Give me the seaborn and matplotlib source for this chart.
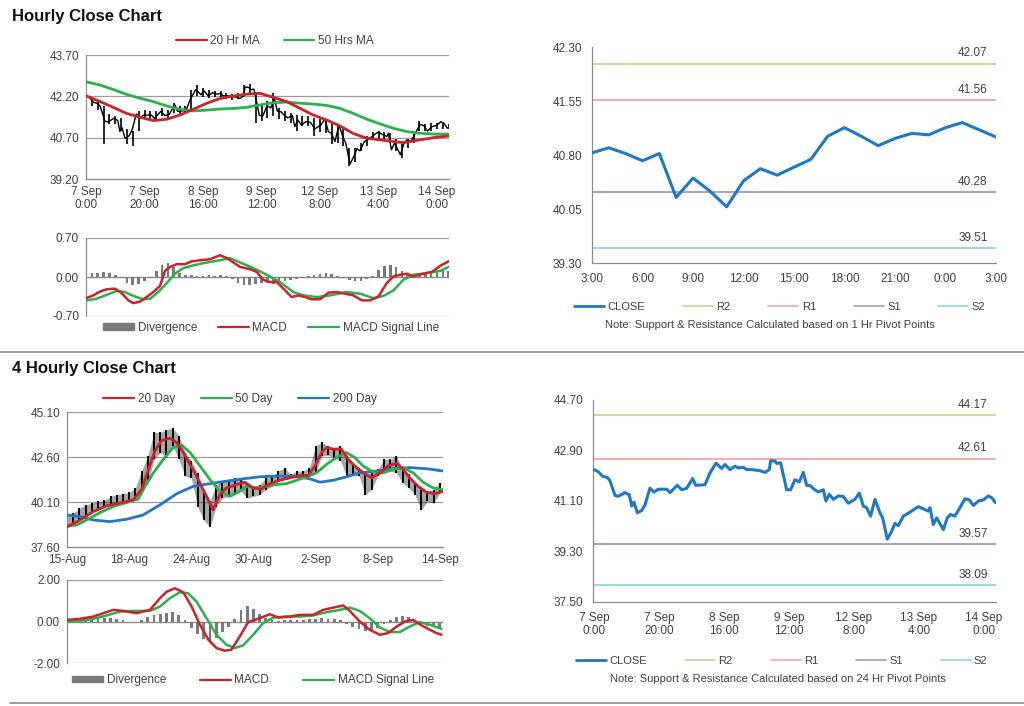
import matplotlib
matplotlib.use("Agg")
import matplotlib.pyplot as plt
import seaborn as sns
from matplotlib.lines import Line2D
from matplotlib.patches import Patch

sns.set_style("white")
plt.rcParams['font.family'] = ['Liberation Sans', 'DejaVu Sans']

# ---------------- DATA ----------------
# Hourly chart (7 Sep 0:00 -> 14 Sep ~4:00), x = trading-hour index
hourly_tick_labels = ["7 Sep\n0:00", "7 Sep\n20:00", "8 Sep\n16:00", "9 Sep\n12:00",
                      "12 Sep\n8:00", "13 Sep\n4:00", "14 Sep\n0:00"]
hourly_ticks = [0, 20, 40, 60, 80, 100, 120]

bar_hours = list(range(0, 125, 2))
bar_high_1h = [42.22, 42.14, 42.02, 41.84, 41.55, 41.48, 41.42, 41.00, 40.94, 41.66,
               41.72, 41.66, 41.66, 41.78, 41.72, 41.96, 41.84, 41.84, 42.44, 42.62,
               42.50, 42.44, 42.40, 42.38, 42.32, 42.30, 42.32, 42.60, 42.64, 42.30,
               41.90, 42.02, 42.32, 41.78, 41.66, 41.60, 41.54, 41.48, 41.48, 41.42,
               41.36, 41.36, 41.24, 41.12, 41.00, 40.34, 40.34, 40.52, 40.76, 40.90,
               40.96, 40.90, 40.88, 40.64, 40.46, 40.64, 40.82, 41.30, 41.20, 41.22,
               41.24, 41.24, 41.20]
bar_low_1h = [41.95, 41.84, 41.72, 40.46, 41.20, 41.18, 40.94, 40.46, 40.40, 40.94,
              41.36, 41.36, 41.38, 41.48, 41.42, 41.60, 41.54, 41.56, 41.72, 42.20,
              42.18, 42.14, 42.16, 42.14, 42.10, 42.08, 42.10, 42.20, 42.30, 41.24,
              41.30, 41.42, 41.48, 41.36, 41.30, 41.24, 40.94, 41.12, 41.12, 40.76,
              40.90, 40.88, 40.46, 40.50, 40.40, 39.68, 39.80, 40.22, 40.40, 40.64,
              40.66, 40.60, 40.52, 40.22, 39.98, 40.34, 40.52, 40.94, 40.94, 40.96,
              41.00, 41.00, 41.00]

ma20_hours = [0, 4.8, 9.3, 13.9, 18.5, 23.0, 27.6, 32.1, 36.7, 41.3, 45.8, 50.4, 54.9, 59.5,
              64.1, 68.6, 73.2, 77.7, 82.3, 86.9, 91.4, 96.0, 100.5, 105.1, 108.5, 111.9,
              116.5, 120.0, 123.9]
ma20_1h = [42.22, 42.01, 41.80, 41.58, 41.44, 41.32, 41.37, 41.52, 41.73, 41.95, 42.12, 42.21,
           42.28, 42.31, 42.16, 42.01, 41.76, 41.52, 41.34, 41.12, 40.85, 40.68, 40.62, 40.56,
           40.52, 40.58, 40.66, 40.72, 40.76]
ma50_hours = [0, 4.8, 9.3, 13.9, 18.5, 23.0, 27.6, 32.1, 36.7, 41.3, 45.8, 50.4, 54.9, 59.5,
              64.1, 68.6, 73.2, 77.7, 82.3, 86.9, 91.4, 96.0, 100.5, 105.1, 109.7, 114.2,
              118.8, 123.9]
ma50_1h = [42.73, 42.61, 42.45, 42.27, 42.13, 42.01, 41.85, 41.73, 41.67, 41.70, 41.74, 41.76,
           41.80, 41.89, 41.97, 41.99, 41.95, 41.92, 41.87, 41.76, 41.58, 41.37, 41.20, 41.04,
           40.92, 40.86, 40.83, 40.83]

macd_hours = [0, 2.5, 4.8, 7.1, 9.9, 12.2, 14.5, 16.2, 18.5, 20.7, 23.0, 25.3, 27.0, 28.7, 31.0,
              33.8, 36.1, 39.0, 42.4, 45.8, 48.1, 50.4, 52.7, 56.1, 58.4, 60.6, 62.9, 65.2, 67.5,
              70.3, 72.6, 74.9, 77.1, 80.0, 82.9, 85.7, 88.6, 91.4, 94.3, 97.1, 100.0, 102.8,
              105.1, 107.4, 109.7, 111.9, 115.4, 118.2, 121.1, 123.9]
macd_1h = [-0.38, -0.33, -0.26, -0.22, -0.21, -0.29, -0.42, -0.47, -0.44, -0.36,
           -0.27, -0.16, 0.11, 0.18, 0.23, 0.23, 0.28, 0.30, 0.32, 0.39,
           0.34, 0.26, 0.18, 0.14, 0.09, -0.05, -0.09, -0.09, -0.21, -0.36,
           -0.33, -0.36, -0.40, -0.40, -0.28, -0.27, -0.30, -0.33, -0.42, -0.42,
           -0.35, -0.11, 0.01, 0.04, 0.06, 0.01, 0.06, 0.09, 0.20, 0.28]
signal_hours = [0, 3.6, 7.1, 10.5, 13.3, 16.2, 19.6, 21.9, 24.7, 27.6, 30.4, 33.3, 36.7, 41.3,
                45.8, 49.2, 52.7, 57.2, 61.8, 66.3, 70.9, 74.3, 78.9, 83.4, 89.1, 93.7, 98.3,
                101.7, 105.1, 108.5, 111.9, 116.5, 121.1, 123.9]
signal_1h = [-0.42, -0.39, -0.32, -0.25, -0.27, -0.34, -0.40, -0.39, -0.27, -0.11, 0.06, 0.16,
             0.21, 0.26, 0.30, 0.34, 0.26, 0.16, 0.04, -0.09, -0.27, -0.33, -0.36, -0.33,
             -0.27, -0.30, -0.38, -0.34, -0.24, -0.05, 0.04, 0.07, 0.11, 0.18]
div_hours = list(range(0, 125, 2))
div_1h = [0.05, 0.07, 0.08, 0.09, 0.07, 0.04, -0.02, -0.10, -0.15, -0.13,
          -0.08, -0.02, 0.10, 0.22, 0.26, 0.18, 0.08, 0.04, 0.03, 0.02,
          0.02, 0.03, 0.02, 0.03, 0.02, -0.04, -0.10, -0.14, -0.15, -0.12,
          -0.10, -0.11, -0.12, -0.10, -0.08, -0.05, -0.03, -0.02, 0.01, 0.03,
          0.05, 0.08, 0.06, 0.02, -0.02, -0.05, -0.08, -0.07, -0.04, 0.02,
          0.12, 0.20, 0.22, 0.18, 0.10, 0.04, 0.03, 0.04, 0.05, 0.07,
          0.10, 0.12, 0.10]

# Hourly close with 1 Hr pivots (last 24 hours)
pivot1h_labels = ["3:00", "6:00", "9:00", "12:00", "15:00", "18:00", "21:00", "0:00", "3:00"]
pivot1h_close = [40.83, 40.90, 40.82, 40.72, 40.82, 40.21, 40.48, 40.30, 40.08, 40.44,
                 40.61, 40.52, 40.63, 40.74, 41.06, 41.18, 41.06, 40.93, 41.03, 41.10,
                 41.08, 41.18, 41.25, 41.15, 41.05]
pivot1h_levels = {"R2": 42.07, "R1": 41.56, "S1": 40.28, "S2": 39.51}

# 4-hourly chart
h4_tick_labels = ["15-Aug", "18-Aug", "24-Aug", "30-Aug", "2-Sep", "8-Sep", "14-Sep"]
h4_ticks = [0, 20, 40, 60, 80, 100, 120]
h4_bar_idx = list(range(0, 121, 2))
h4_high = [39.29, 39.47, 39.76, 39.94, 40.04, 40.13, 40.19, 40.41, 40.51, 40.56,
           40.64, 40.88, 41.82, 42.66, 43.97, 43.97, 44.12, 44.20, 43.79, 42.85,
           42.38, 41.72, 40.60, 40.13, 41.07, 41.26, 41.26, 41.44, 41.35, 41.16,
           40.97, 41.07, 41.44, 41.54, 41.82, 42.01, 41.63, 41.82, 41.82, 42.01,
           43.22, 43.41, 43.19, 43.04, 43.22, 42.66, 42.19, 42.01, 41.72, 41.72,
           41.91, 42.47, 42.47, 42.66, 41.91, 41.63, 41.16, 40.79, 40.69, 40.79,
           41.16]
h4_low = [38.69, 38.87, 39.10, 39.38, 39.51, 39.76, 39.85, 39.92, 40.00, 40.07,
          40.19, 40.32, 40.69, 41.16, 42.47, 42.85, 42.57, 43.22, 42.47, 41.54,
          41.44, 39.85, 39.10, 38.72, 39.85, 40.32, 40.41, 40.60, 40.69, 40.32,
          40.41, 40.51, 40.79, 40.97, 41.26, 41.35, 41.44, 41.44, 41.50, 41.54,
          41.72, 42.66, 42.70, 42.57, 42.38, 41.54, 41.63, 41.54, 40.51, 40.79,
          41.54, 41.82, 41.82, 41.72, 41.16, 40.88, 40.51, 39.66, 40.13, 40.04,
          40.60]
ma20d_idx = [0, 4.2, 8.5, 12.8, 17.0, 21.3, 24.0, 26.2, 28.3, 30.4, 33.1, 35.3, 37.4, 39.6,
             41.7, 43.8, 46.0, 47.0, 49.2, 51.3, 54.6, 57.2, 59.9, 62.6, 65.3, 68.5, 71.7,
             74.9, 77.6, 79.8, 81.9, 83.5, 85.7, 88.3, 90.5, 92.6, 95.3, 98.0, 100.7, 103.3,
             106.1, 108.2, 110.3, 113.0, 115.7, 118.4, 121.0]
ma20d = [38.72, 39.10, 39.57, 39.89, 40.04, 40.22, 40.79, 41.91, 42.94, 43.51, 43.64, 43.41,
         42.85, 42.19, 41.54, 40.79, 40.04, 39.66, 40.51, 40.88, 41.07, 41.20, 40.88, 40.82,
         41.12, 41.31, 41.44, 41.57, 41.57, 42.10, 42.85, 43.13, 43.04, 43.04, 42.47, 42.10,
         41.72, 41.44, 41.72, 42.10, 42.25, 41.91, 41.44, 40.97, 40.64, 40.56, 40.69]
ma50d_idx = [0, 3.1, 6.3, 10.6, 14.9, 19.2, 22.9, 25.1, 27.8, 31.0, 34.2, 36.9, 39.6, 42.8,
             46.0, 49.2, 52.4, 55.1, 57.8, 61.0, 64.2, 67.4, 70.6, 73.9, 77.1, 80.3, 83.5,
             86.7, 89.9, 92.6, 95.3, 98.5, 101.7, 104.9, 108.2, 111.4, 114.6, 117.8, 121.0]
ma50d = [38.76, 38.82, 39.10, 39.51, 39.85, 40.07, 40.26, 40.97, 41.72, 42.47, 43.13, 43.26,
         42.85, 42.10, 41.35, 40.69, 40.41, 40.64, 40.97, 40.88, 40.97, 41.07, 41.12, 41.31,
         41.50, 41.72, 42.19, 42.57, 42.85, 42.57, 42.10, 41.76, 41.72, 41.91, 42.01, 41.72,
         41.20, 40.88, 40.79]
ma200d_idx = [0, 4.2, 8.5, 13.8, 19.2, 24.5, 29.9, 35.3, 40.6, 46.0, 51.3, 56.7, 62.1, 67.4,
              72.8, 78.1, 81.4, 85.7, 90.0, 94.2, 99.6, 104.9, 110.3, 115.7, 121.0]
ma200d = [39.38, 39.29, 39.10, 39.01, 39.14, 39.38, 39.94, 40.56, 40.97, 41.12, 41.26, 41.39,
          41.50, 41.54, 41.54, 41.39, 41.20, 41.31, 41.50, 41.72, 41.82, 41.95, 42.01, 41.95,
          41.82]

macd4_idx = [0, 4.2, 8.5, 11.7, 14.9, 18.1, 22.4, 26.7, 29.9, 32.1, 34.7, 37.4, 40.1, 42.8,
             45.5, 48.1, 50.8, 52.9, 55.6, 58.3, 61.5, 65.3, 68.0, 71.7, 74.9, 79.2, 82.4,
             85.7, 88.9, 91.0, 94.2, 97.4, 100.7, 103.3, 106.1, 108.8, 111.4, 114.1, 116.8,
             118.9, 120.5]
macd4 = [0.08, 0.13, 0.24, 0.40, 0.56, 0.51, 0.40, 0.56, 1.12, 1.44,
         1.60, 1.41, 0.72, -0.16, -0.88, -1.28, -1.41, -1.36, -0.72, -0.03,
         0.13, 0.35, 0.19, 0.24, 0.32, 0.32, 0.56, 0.67, 0.77, 0.51,
         0.00, -0.40, -0.64, -0.56, -0.24, 0.00, 0.08, -0.19, -0.40, -0.56, -0.64]
signal4_idx = [0, 4.2, 8.5, 12.8, 17.0, 21.3, 26.7, 29.9, 33.1, 36.3, 39.0, 41.7, 44.9, 48.1,
               51.3, 54.0, 56.7, 59.9, 63.1, 66.4, 70.6, 74.9, 79.2, 83.5, 87.8, 91.0, 94.2,
               97.4, 100.7, 103.9, 107.1, 110.3, 113.5, 116.8, 120.5]
signal4 = [0.00, 0.03, 0.13, 0.29, 0.48, 0.51, 0.51, 0.72, 1.12, 1.41, 1.36, 0.96, 0.16,
           -0.64, -1.12, -1.28, -1.15, -0.64, -0.08, 0.19, 0.24, 0.24, 0.29, 0.45, 0.56,
           0.67, 0.51, 0.16, -0.29, -0.51, -0.51, -0.24, -0.03, -0.16, -0.35]
div4_idx = list(range(0, 121, 2))
div4 = [0.05, 0.08, 0.10, 0.12, 0.15, 0.17, 0.18, 0.15, 0.12, 0.05,
        -0.03, -0.04, 0.05, 0.20, 0.32, 0.38, 0.42, 0.45, 0.30, 0.05,
        -0.30, -0.60, -0.85, -0.95, -0.80, -0.50, -0.25, 0.10, 0.55, 0.75,
        0.60, 0.35, 0.15, 0.05, 0.03, 0.05, 0.06, 0.07, 0.08, 0.10,
        0.13, 0.15, 0.14, 0.12, 0.05, -0.10, -0.25, -0.38, -0.45, -0.45,
        -0.30, -0.10, 0.05, 0.20, 0.25, 0.20, 0.05, -0.10, -0.20, -0.28,
        -0.30]

# Hourly close with 24 Hr pivots
close_hours = [0, 1.33, 2.67, 4.10, 4.92, 6.46, 7.49, 9.54, 10.87, 11.59, 12.31, 13.33, 14.67,
               15.69, 17.23, 18.46, 19.79, 22.36, 23.38, 25.64, 26.97, 28.51, 30.36, 31.28,
               34.15, 35.69, 37.54, 39.28, 40.31, 41.84, 43.38, 44.41, 45.95, 46.97, 48.51,
               51.08, 52.62, 53.95, 54.36, 55.69, 56.21, 57.43, 59.28, 60.51, 61.85, 63.18,
               64.41, 65.44, 66.67, 67.69, 69.02, 70.56, 71.38, 72.41, 73.64, 75.18, 76.72,
               78.25, 80.30, 81.64, 82.87, 83.89, 85.12, 86.46, 88.00, 88.82, 90.25, 91.59,
               92.61, 93.64, 95.18, 97.23, 99.79, 101.33, 102.87, 103.38, 104.41, 105.44,
               107.49, 108.72, 109.74, 111.05, 112.59, 114.15, 115.48, 116.72, 118.26,
               119.79, 121.33, 122.36, 123.59]
close_1h = [42.22, 42.14, 41.98, 41.94, 41.82, 41.30, 41.27, 41.40, 41.32, 40.92, 41.06, 40.68,
            40.76, 40.96, 41.56, 41.42, 41.52, 41.52, 41.40, 41.66, 41.50, 41.55, 41.90, 41.66,
            41.68, 42.10, 42.45, 42.26, 42.40, 42.22, 42.34, 42.28, 42.30, 42.22, 42.22, 42.18,
            42.12, 42.22, 42.54, 42.52, 42.44, 42.46, 41.50, 41.50, 41.86, 41.78, 42.12, 41.66,
            41.64, 41.52, 41.42, 41.50, 41.10, 41.34, 41.16, 41.28, 41.26, 41.02, 41.16, 41.38,
            40.92, 40.86, 40.56, 41.16, 40.68, 40.50, 39.74, 40.02, 40.30, 40.22, 40.56, 40.70,
            40.90, 40.82, 40.74, 40.86, 40.26, 40.50, 40.08, 40.50, 40.62, 40.56, 40.86, 41.18,
            41.14, 40.94, 41.10, 41.14, 41.28, 41.22, 41.04]
pivot24_levels = {"R2": 44.17, "R1": 42.61, "S1": 39.57, "S2": 38.09}

# ---------------- STYLE ----------------
W, H = 1024, 706
RED = '#c9232b'
GREEN = '#2cb04f'
BLUE = '#1f78c1'
DIVG = '#7a7a7a'
AXC = '#8c8c8c'
GRIDC = '#9c9c9c'
TXT = '#404040'
LEVEL_COLORS = {"R2": '#c4d79b', "R1": '#f2a7a7', "S1": '#a797c9', "S2": '#93d2e2'}

fig = plt.figure(figsize=(W / 100, H / 100), dpi=100)
fig.patch.set_facecolor('white')


def px_axes(l, t, r, b):
    return fig.add_axes([l / W, 1 - b / H, (r - l) / W, (b - t) / H])


def style_left(ax, yticks):
    ax.set_ylim(yticks[0], yticks[-1])
    ax.set_yticks(yticks)
    ax.set_yticklabels([f"{v:.2f}" for v in yticks])
    ax.yaxis.grid(True, color=GRIDC, lw=0.9)
    ax.xaxis.grid(False)
    ax.set_axisbelow(True)
    for s in ['top', 'right']:
        ax.spines[s].set_visible(False)
    for s in ['left', 'bottom']:
        ax.spines[s].set_color(AXC)
        ax.spines[s].set_linewidth(0.9)
    ax.tick_params(axis='both', direction='out', length=3, width=0.8, color=AXC,
                   labelsize=8.5, labelcolor=TXT, pad=2)
    ax.set_xlabel("")
    ax.set_ylabel("")


def style_right(ax, yticks):
    ax.set_ylim(yticks[0], yticks[-1])
    ax.set_yticks(yticks)
    ax.set_yticklabels([f"{v:.2f}" for v in yticks])
    ax.grid(False)
    for s in ['top', 'right']:
        ax.spines[s].set_visible(False)
    for s in ['left', 'bottom']:
        ax.spines[s].set_color(AXC)
        ax.spines[s].set_linewidth(0.9)
    ax.tick_params(axis='both', direction='out', length=4, width=0.8, color=AXC,
                   labelsize=8.5, labelcolor=TXT, pad=3)
    ax.set_xlabel("")
    ax.set_ylabel("")


def line(ax, x, y, color, lw, z=3):
    sns.lineplot(x=x, y=y, ax=ax, color=color, linewidth=lw, legend=False, errorbar=None,
                 zorder=z)


def style_legend(leg):
    for t in leg.get_texts():
        t.set_color(TXT)


def macd_legend(ax, x, y, spacing):
    handles = [Patch(facecolor=DIVG, edgecolor=DIVG, label='Divergence'),
               Line2D([], [], color=RED, lw=1.6, label='MACD'),
               Line2D([], [], color=GREEN, lw=1.6, label='MACD Signal Line')]
    style_legend(ax.legend(handles=handles, loc='center', bbox_to_anchor=(x, y), ncol=3,
                           frameon=False, fontsize=8.5, handlelength=2.6, handleheight=0.45,
                           columnspacing=spacing, handletextpad=0.3))


def pivot_legend(ax, x, y):
    handles = [Line2D([], [], color=BLUE, lw=2.0, label='CLOSE')]
    for k in ["R2", "R1", "S1", "S2"]:
        handles.append(Line2D([], [], color=LEVEL_COLORS[k], lw=1.2, label=k))
    style_legend(ax.legend(handles=handles, loc='center', bbox_to_anchor=(x, y), ncol=5,
                           frameon=False, fontsize=8, handlelength=2.7, columnspacing=3.4,
                           handletextpad=0.3))


def draw_levels(ax, levels):
    for k, v in levels.items():
        ax.axhline(v, color=LEVEL_COLORS[k], lw=1.3, zorder=1)
        ax.annotate(f"{v:.2f}", xy=(1.0, v), xycoords=('axes fraction', 'data'),
                    xytext=(-6, 3), textcoords='offset points', ha='right', va='bottom',
                    fontsize=8.5, color=TXT)


# ---------------- TITLES / SEPARATORS ----------------
fig.text(12 / W, 1 - 16 / H, "Hourly Close Chart", fontsize=12, fontweight='bold',
         va='center', ha='left', color='#111111')
fig.text(12 / W, 1 - 369 / H, "4 Hourly Close Chart", fontsize=12, fontweight='bold',
         va='center', ha='left', color='#111111')
fig.add_artist(Line2D([0, 1], [1 - 352 / H] * 2, color='#8c8c8c', lw=1.2))
fig.add_artist(Line2D([10 / W, 1], [1 - 703 / H] * 2, color='#8c8c8c', lw=1.2))

# ---------------- TOP-LEFT: hourly bars + MAs ----------------
ax1 = px_axes(86, 55, 449, 179)
ax1.vlines(bar_hours, bar_low_1h, bar_high_1h, colors='black', linewidth=1.2, zorder=2)
line(ax1, close_hours, close_1h, 'black', 1.0, z=2)
line(ax1, ma50_hours, ma50_1h, GREEN, 2.0)
line(ax1, ma20_hours, ma20_1h, RED, 2.0)
style_left(ax1, [39.20, 40.70, 42.20, 43.70])
ax1.set_xlim(0, 124.1)
ax1.set_xticks(hourly_ticks)
ax1.set_xticklabels(hourly_tick_labels, linespacing=1.1)
style_legend(ax1.legend(handles=[Line2D([], [], color=RED, lw=1.6, label='20 Hr MA'),
                                 Line2D([], [], color=GREEN, lw=1.6, label='50 Hrs MA')],
                        loc='center', bbox_to_anchor=(0.52, 1.115), ncol=2, frameon=False,
                        fontsize=8.5, handlelength=2.6, columnspacing=2.0, handletextpad=0.3))

# ---------------- TOP-LEFT MACD ----------------
ax2 = px_axes(86, 238, 449, 316)
ax2.bar(div_hours, div_1h, width=0.9, color=DIVG, linewidth=0, zorder=2)
line(ax2, signal_hours, signal_1h, GREEN, 1.8)
line(ax2, macd_hours, macd_1h, RED, 1.8)
style_left(ax2, [-0.70, 0.00, 0.70])
ax2.axhline(0, color=AXC, lw=0.9, zorder=1)
ax2.set_xlim(0, 124.1)
ax2.set_xticks([])
ax2.spines['bottom'].set_visible(False)
macd_legend(ax2, 0.51, -0.15, 1.8)

# ---------------- TOP-RIGHT: 1 Hr pivots ----------------
ax3 = px_axes(592, 47, 996, 263)
draw_levels(ax3, pivot1h_levels)
line(ax3, list(range(len(pivot1h_close))), pivot1h_close, BLUE, 2.2)
style_right(ax3, [39.30, 40.05, 40.80, 41.55, 42.30])
ax3.set_xlim(0, 24)
ax3.set_xticks(list(range(0, 25, 3)))
ax3.set_xticklabels(pivot1h_labels)
pivot_legend(ax3, 0.465, -0.205)
fig.text(770 / W, 1 - 325 / H, "Note: Support & Resistance Calculated based on 1 Hr Pivot Points",
         fontsize=8, color=TXT, ha='center', va='center')

# ---------------- BOTTOM-LEFT: 4 hourly bars + MAs ----------------
ax4 = px_axes(67, 412, 443, 547)
ax4.fill_between(h4_bar_idx, h4_low, h4_high, color='black', alpha=0.35, linewidth=0, zorder=2)
ax4.vlines(h4_bar_idx, h4_low, h4_high, colors='black', linewidth=1.4, zorder=2)
line(ax4, ma200d_idx, ma200d, BLUE, 2.0)
line(ax4, ma50d_idx, ma50d, GREEN, 2.0)
line(ax4, ma20d_idx, ma20d, RED, 2.0)
style_left(ax4, [37.60, 40.10, 42.60, 45.10])
ax4.set_xlim(0, 121)
ax4.set_xticks(h4_ticks)
ax4.set_xticklabels(h4_tick_labels)
style_legend(ax4.legend(handles=[Line2D([], [], color=RED, lw=1.6, label='20 Day'),
                                 Line2D([], [], color=GREEN, lw=1.6, label='50 Day'),
                                 Line2D([], [], color=BLUE, lw=1.6, label='200 Day')],
                        loc='center', bbox_to_anchor=(0.46, 1.098), ncol=3, frameon=False,
                        fontsize=8.5, handlelength=2.6, columnspacing=2.2, handletextpad=0.3))

# ---------------- BOTTOM-LEFT MACD ----------------
ax5 = px_axes(67, 580, 443, 663)
ax5.bar(div4_idx, div4, width=0.9, color=DIVG, linewidth=0, zorder=2)
line(ax5, signal4_idx, signal4, GREEN, 1.8)
line(ax5, macd4_idx, macd4, RED, 1.8)
style_left(ax5, [-2.00, 0.00, 2.00])
ax5.axhline(0, color=AXC, lw=0.9, zorder=1)
ax5.set_xlim(0, 121)
ax5.set_xticks([])
ax5.spines['bottom'].set_visible(False)
macd_legend(ax5, 0.495, -0.21, 2.9)

# ---------------- BOTTOM-RIGHT: 24 Hr pivots ----------------
ax6 = px_axes(593, 400, 996, 602)
draw_levels(ax6, pivot24_levels)
line(ax6, close_hours, close_1h, BLUE, 2.2)
style_right(ax6, [37.50, 39.30, 41.10, 42.90, 44.70])
ax6.set_xlim(-0.3, 123.7)
ax6.set_xticks(hourly_ticks)
ax6.set_xticklabels(hourly_tick_labels, linespacing=1.1)
pivot_legend(ax6, 0.469, -0.292)
fig.text(778 / W, 1 - 679 / H, "Note: Support & Resistance Calculated based on 24 Hr Pivot Points",
         fontsize=8, color=TXT, ha='center', va='center')

fig.savefig("out.png", dpi=100, facecolor='white')
